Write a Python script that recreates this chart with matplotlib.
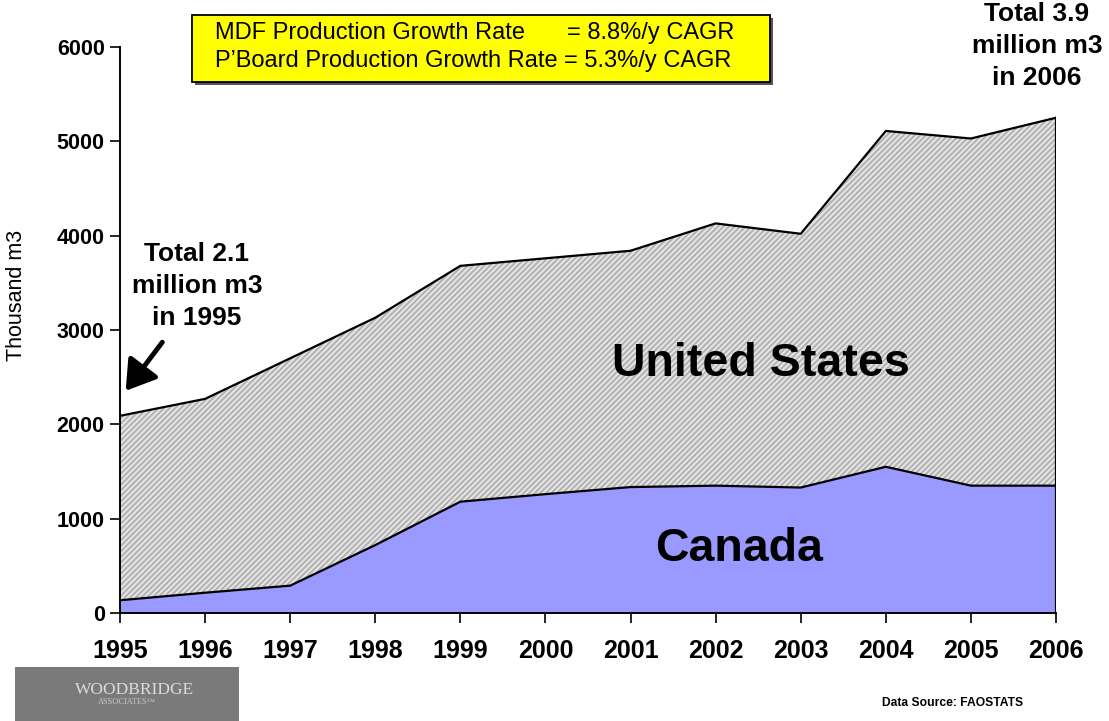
import matplotlib
matplotlib.use("Agg")
import matplotlib.pyplot as plt
from matplotlib.patches import Rectangle, FancyArrowPatch

plt.rcParams['font.family'] = ['Liberation Sans', 'DejaVu Sans']
plt.rcParams['hatch.linewidth'] = 1.5
plt.rcParams['hatch.color'] = '#b3b3b3'

years = [1995, 1996, 1997, 1998, 1999, 2000, 2001, 2002, 2003, 2004, 2005, 2006]
canada = [135, 215, 290, 720, 1180, 1260, 1335, 1350, 1330, 1550, 1350, 1350]
total = [2090, 2270, 2700, 3130, 3680, 3760, 3840, 4130, 4020, 5110, 5030, 5250]
united_states = [t - c for t, c in zip(total, canada)]
yticks = [0, 1000, 2000, 3000, 4000, 5000, 6000]

fig = plt.figure(figsize=(11.09, 7.21), dpi=100)
W, H = 1109, 721
ax = fig.add_axes([120 / W, 1 - 613 / H, (1056 - 120) / W, (613 - 47) / H])

top = [c + u for c, u in zip(canada, united_states)]
ax.fill_between(years, canada, top, facecolor='#e8e8e8', hatch='//////',
                edgecolor='#b3b3b3', linewidth=0, zorder=1)
ax.fill_between(years, 0, canada, facecolor='#9999ff', linewidth=0, zorder=2)
ax.plot(years, canada, color='black', lw=1.6, zorder=3)
ax.plot(years, top, color='black', lw=1.6, zorder=3)
ax.plot([years[-1], years[-1]], [0, top[-1]], color='black', lw=1.6, zorder=3)

ax.set_xlim(years[0], years[-1])
ax.set_ylim(0, 6000)
ax.set_xticks(years)
ax.set_xticklabels([str(y) for y in years], fontsize=18, fontweight='bold')
ax.set_yticks(yticks)
ax.set_yticklabels([str(v) for v in yticks], fontsize=15.5, fontweight='bold')
ax.tick_params(axis='x', direction='out', length=7, width=1.2, pad=12)
ax.tick_params(axis='y', direction='out', length=7, width=1.2, pad=4)
for s in ['top', 'right']:
    ax.spines[s].set_visible(False)
for s in ['left', 'bottom']:
    ax.spines[s].set_linewidth(1.4)

ax.text(2002.53, 2640, 'United States', fontsize=33.5, fontweight='bold', ha='center', va='center', zorder=5)
ax.text(2002.28, 680, 'Canada', fontsize=33.5, fontweight='bold', ha='center', va='center', zorder=5)


def fx(px):
    return px / W


def fy(py):
    return 1 - py / H


fig.text(fx(17), fy(295), 'Thousand m3', fontsize=15.5, rotation=90, ha='center', va='center')

fig.text(fx(197), fy(286), 'Total 2.1\nmillion m3\nin 1995', fontsize=19, fontweight='bold',
         ha='center', va='center', linespacing=1.42)
fig.text(fx(1037), fy(46), 'Total 3.9\nmillion m3\nin 2006', fontsize=19, fontweight='bold',
         ha='center', va='center', linespacing=1.42)

arrow = FancyArrowPatch((fx(164), fy(340)), (fx(124), fy(393)), transform=fig.transFigure,
                        arrowstyle='-|>,head_length=11,head_width=7', color='black', lw=3.5,
                        mutation_scale=1.6)
fig.add_artist(arrow)

# Yellow box
shadow = Rectangle((fx(195), fy(85)), (770 - 192) / W, (82 - 15) / H, transform=fig.transFigure,
                   facecolor='#555555', edgecolor='none', zorder=4)
box = Rectangle((fx(192), fy(82)), (770 - 192) / W, (82 - 15) / H, transform=fig.transFigure,
                facecolor='#ffff00', edgecolor='black', lw=1.3, zorder=5)
fig.add_artist(shadow)
fig.add_artist(box)
fig.text(fx(215), fy(33), 'MDF Production Growth Rate', fontsize=17, ha='left', va='center', zorder=6)
fig.text(fx(215), fy(61), 'P\u2019Board Production Growth Rate', fontsize=17, ha='left', va='center', zorder=6)
fig.text(fx(567), fy(33), '= 8.8%/y CAGR', fontsize=17, ha='left', va='center', zorder=6)
fig.text(fx(564), fy(61), '= 5.3%/y CAGR', fontsize=17, ha='left', va='center', zorder=6)

# Data source
fig.text(fx(953), fy(703), 'Data Source: FAOSTATS', fontsize=8.7, fontweight='bold', ha='center', va='center')

# Logo
logo = Rectangle((fx(15), fy(721)), (239 - 15) / W, (721 - 667) / H, transform=fig.transFigure,
                 facecolor='#7a7a7a', edgecolor='none')
fig.add_artist(logo)
fig.text(fx(135), fy(690), 'WOODBRIDGE', fontsize=12.5, family=['Liberation Serif', 'DejaVu Serif'],
         color='#dcdcdc', ha='center', va='center')
fig.text(fx(127), fy(702), 'ASSOCIATES\u2122', fontsize=6, family=['Liberation Serif', 'DejaVu Serif'],
         color='#c8c8c8', ha='center', va='center')

fig.savefig('out.png', dpi=100)
